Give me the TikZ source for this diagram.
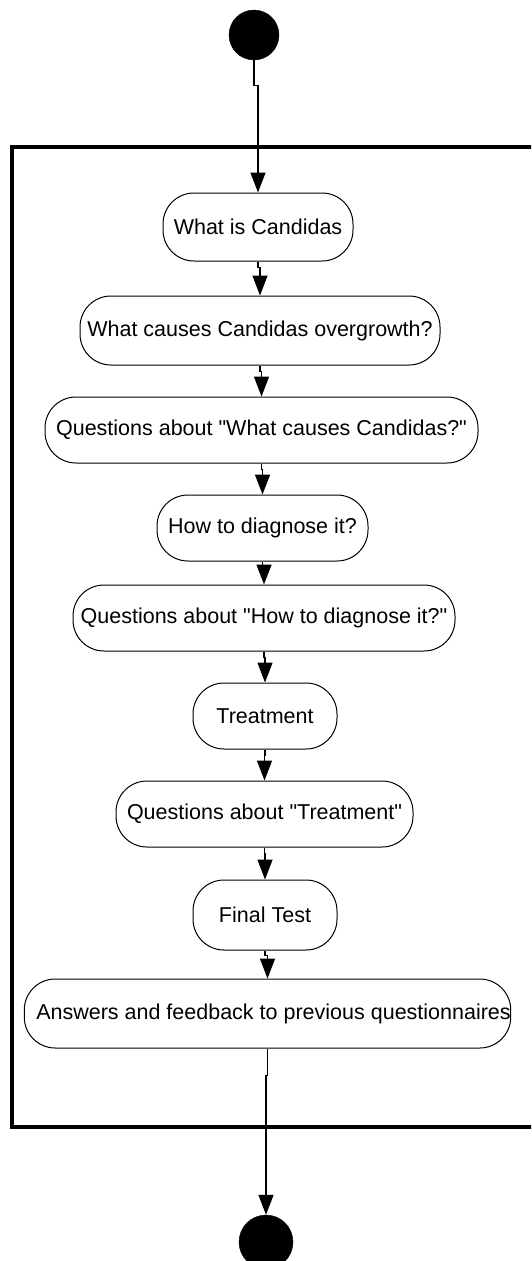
\documentclass[tikz,border=0pt]{standalone}
\usepackage{fontspec}
\setmainfont{Liberation Sans}
\usetikzlibrary{arrows.meta}

\tikzset{
  activity/.style={draw=black, line width=1pt, rounded corners=31pt,
    inner sep=0pt, font=\fontsize{21.5}{24}\selectfont},
  flow/.style={line width=1.4pt, -{Triangle[length=20pt, width=15pt]}},
  pseudostate/.style={circle, fill=black, draw=black, inner sep=0pt},
  frame/.style={draw=black, line width=3.5pt}
}

\begin{document}
\begin{tikzpicture}[x=1pt, y=-1pt]
  \useasboundingbox (0,0) rectangle (531,1261);
  \clip (0,0) rectangle (531,1261);

  % enclosing region
  \draw[frame] (12,147) rectangle (560,1127);

  % initial and final states
  \node[pseudostate, minimum size=50pt] (start) at (254,35) {};
  \node[pseudostate, minimum size=54pt] (stop) at (266,1242) {};

  % activities
  \node[activity, minimum width=190pt, minimum height=68pt] (a1) at (258,227) {What is Candidas};
  \node[activity, minimum width=360pt, minimum height=69pt] (a2) at (260,330.5) {What causes Candidas overgrowth?};
  \node[activity, minimum width=433pt, minimum height=66pt] (a3) at (261.5,430) {Questions about \textquotedbl What causes Candidas?\textquotedbl};
  \node[activity, minimum width=211pt, minimum height=66pt] (a4) at (262.5,528) {How to diagnose it?};
  \node[activity, minimum width=382pt, minimum height=66pt] (a5) at (264,618) {Questions about \textquotedbl How to diagnose it?\textquotedbl};
  \node[activity, minimum width=144pt, minimum height=66pt] (a6) at (265,716) {Treatment};
  \node[activity, minimum width=297pt, minimum height=66pt] (a7) at (264.5,814) {Questions about \textquotedbl Treatment\textquotedbl};
  \node[activity, minimum width=144pt, minimum height=70pt] (a8) at (265,915) {Final Test};
  \node[activity, minimum width=485pt, minimum height=69pt] (a9) at (267.5,1013.5) {\hspace*{12pt}Answers and feedback to previous questionnaires};

  % transitions
  \draw[flow] (start.south) -- ++(0,25) -| (a1.north);
  \draw[flow] (a1.south) -- ++(0,6) -| (a2.north);
  \draw[flow] (a2.south) -- ++(0,6) -| (a3.north);
  \draw[flow] (a3.south) -- ++(0,6) -| (a4.north);
  \draw[flow] (a4.south) -- ++(0,6) -| (a5.north);
  \draw[flow] (a5.south) -- ++(0,6) -| (a6.north);
  \draw[flow] (a6.south) -- ++(0,6) -| (a7.north);
  \draw[flow] (a7.south) -- ++(0,6) -| (a8.north);
  \draw[flow] (a8.south) -- ++(0,5) -| (a9.north);
  \draw[flow] (a9.south) -- ++(0,27) -| (stop.north);
\end{tikzpicture}
\end{document}
